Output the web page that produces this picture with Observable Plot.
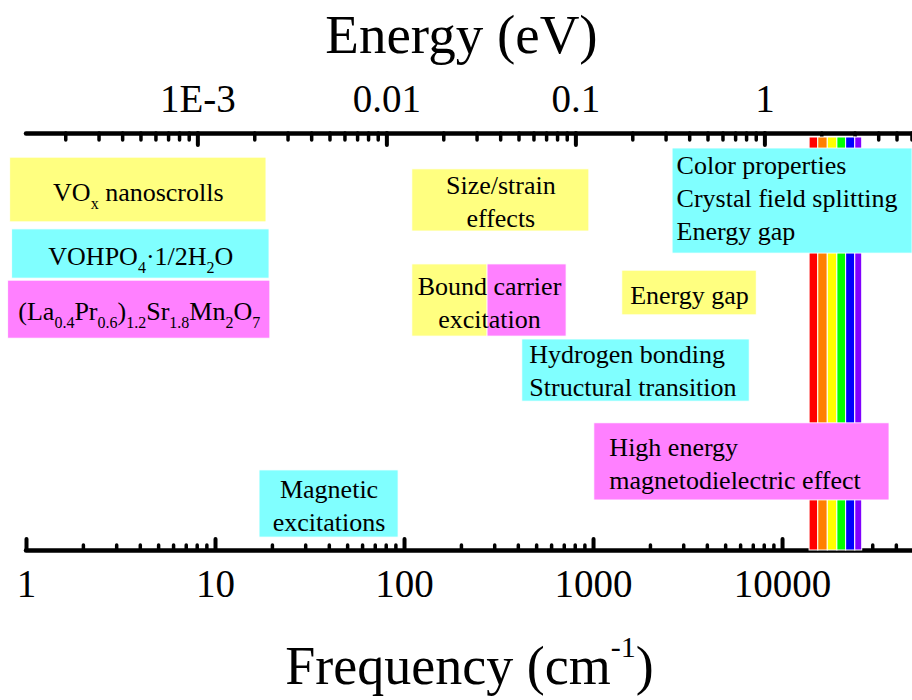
<!DOCTYPE html>
<html>
<head>
<meta charset="utf-8">
<script src="https://cdn.jsdelivr.net/npm/d3@7"></script>
<script src="https://cdn.jsdelivr.net/npm/@observablehq/plot@0.6"></script>
<style>
  body { margin: 0; background: #fff; }
</style>
</head>
<body>
<div id="chart"></div>
<script>
const CM_PER_EV = 8065.54;

// Materials and their highlight colours
const materials = ["VOx nanoscrolls", "VOHPO4·1/2H2O", "(La0.4Pr0.6)1.2Sr1.8Mn2O7"];
const materialColors = ["#ffff80", "#80ffff", "#ff80ff"];

// Study regions: material, frequency span (cm⁻¹) and vertical lane (0 = bottom axis, 100 = top axis)
const regionMaterial = [0, 1, 2, 0, 0, 2, 0, 1, 1, 2, 1];
const regionFrom = [0.82, 0.84, 0.80, 110, 110, 275, 1420, 420, 2620, 1010, 17.1];
const regionTo = [18.6, 19.3, 19.5, 950, 275, 720, 7300, 6700, 48700, 36800, 93];
const laneTop = [94.2, 77.0, 64.7, 91.4, 68.6, 68.6, 67.1, 50.6, 96.4, 30.5, 19.2];
const laneBottom = [78.7, 65.2, 50.8, 76.5, 51.3, 51.3, 56.4, 35.7, 71.2, 12.0, 3.1];

// Region labels: text, first/last region spanned, alignment
const labelText = [
  "VO_{x} nanoscrolls",
  "VOHPO_{4}·1/2H_{2}O",
  "(La_{0.4}Pr_{0.6})_{1.2}Sr_{1.8}Mn_{2}O_{7}",
  "Size/strain\neffects",
  "Bound carrier\nexcitation",
  "Energy gap",
  "Hydrogen bonding\nStructural transition",
  "Color properties\nCrystal field splitting\nEnergy gap",
  "High energy\nmagnetodielectric effect",
  "Magnetic\nexcitations"
];
const labelRegions = [[0, 0], [1, 1], [2, 2], [3, 3], [4, 5], [6, 6], [7, 7], [8, 8], [9, 9], [10, 10]];
const labelAlign = ["middle", "middle", "middle", "middle", "middle", "middle", "start", "start", "start", "middle"];

// Visible spectrum bands (cm⁻¹)
const spectrumColors = ["#ff0000", "#ff8000", "#ffff00", "#00ff00", "#0000ff", "#8000ff"];
const spectrumEdges = [13900, 15450, 17350, 19500, 21700, 24250, 26400];

// Axis tick labels
const freqTickValues = [1, 10, 100, 1000, 10000];
const freqTickLabels = ["1", "10", "100", "1000", "10000"];
const energyTickValues = [0.001, 0.01, 0.1, 1];
const energyTickLabels = ["1E-3", "0.01", "0.1", "1"];

const regions = regionFrom.map((_, i) => ({
  from: regionFrom[i], to: regionTo[i], top: laneTop[i], bottom: laneBottom[i],
  fill: materialColors[regionMaterial[i]], material: materials[regionMaterial[i]]
}));
const labels = labelText.map((text, i) => {
  const [a, b] = labelRegions[i];
  return {id: i, text, from: regionFrom[a], to: regionTo[b], mid: (laneTop[a] + laneBottom[a]) / 2, align: labelAlign[i]};
});
const stripes = spectrumColors.map((color, i) => ({from: spectrumEdges[i], to: spectrumEdges[i + 1], color}));

const xDomain = [1, 48700];
const freqTicks = d3.scaleLog().domain(xDomain).ticks();
const energyTicks = d3.scaleLog().domain(xDomain.map(f => f / CM_PER_EV)).ticks();
const isDecade = v => Math.abs(Math.log10(v) - Math.round(Math.log10(v))) < 1e-9;

const font = "'Liberation Serif', 'Times New Roman', Times, serif";
const tick = {stroke: "black", strokeLinecap: "round"};
const boxText = {y: "mid", text: "text", fontSize: 26, lineHeight: 1.27, fill: "black"};
const leftLabels = (ids, dx, dy) => Plot.text(labels.filter(d => ids.includes(d.id)),
  {...boxText, x: "from", textAnchor: "start", dx, dy});

const chart = Plot.plot({
  width: 912,
  height: 700,
  marginTop: 133,
  marginRight: 0,
  marginBottom: 150,
  marginLeft: 26,
  x: {type: "log", domain: xDomain, axis: null},
  y: {domain: [0, 100], axis: null},
  style: {fontFamily: font, background: "white", color: "black"},
  marks: [
    // axis lines: frequency at the bottom, energy at the top
    Plot.ruleY([0, 100], {...tick, strokeWidth: 4.5}),
    Plot.ruleX(freqTicks.filter(isDecade), {...tick, y1: 0, y2: 0, insetBottom: 11, strokeWidth: 4}),
    Plot.ruleX(freqTicks.filter(v => !isDecade(v)), {...tick, y1: 0, y2: 0, insetBottom: 5, strokeWidth: 3.5}),
    Plot.ruleX(energyTicks.filter(isDecade), {...tick, x: e => e * CM_PER_EV, y1: 100, y2: 100, insetTop: 12, strokeWidth: 4}),
    Plot.ruleX(energyTicks.filter(v => !isDecade(v)), {...tick, x: e => e * CM_PER_EV, y1: 100, y2: 100, insetTop: 7, strokeWidth: 3.5}),
    Plot.text(freqTickValues, {x: d => d, y: 0, text: (d, i) => freqTickLabels[i], dy: 34.5, fontSize: 39, fill: "black"}),
    Plot.text(energyTickValues, {x: e => e * CM_PER_EV, y: 100, text: (d, i) => energyTickLabels[i], dy: -33.5, fontSize: 39, fill: "black"}),

    // visible spectrum
    Plot.rect(stripes, {x1: "from", x2: "to", y1: 0, y2: 100, insetTop: 4, fill: "color", stroke: "white", strokeWidth: 1}),

    // study regions
    Plot.rect(regions, {x1: "from", x2: "to", y1: "bottom", y2: "top", fill: "fill", stroke: "white", strokeWidth: 0.8}),
    Plot.text(labels.filter(d => d.align === "middle"), {...boxText, x: d => Math.sqrt(d.from * d.to)}),
    leftLabels([6], 7, -2),
    leftLabels([7], 4, -5),
    leftLabels([8], 15, 0),

    // axis titles
    Plot.text(["Energy (eV)"], {frameAnchor: "top", lineAnchor: "middle", dx: -8, dy: -98.6, fontSize: 55, fill: "black"}),
    Plot.text(["Frequency (cm^{-1})"], {frameAnchor: "bottom", lineAnchor: "middle", dy: 116, fontSize: 54, fill: "black"})
  ]
});

// Turn _{...} and ^{...} markup into subscript / superscript tspans
function richText(root) {
  const ns = "http://www.w3.org/2000/svg";
  root.querySelectorAll("text").forEach(t => {
    if (t.children.length) return;
    const s = t.textContent;
    if (!/[_^]\{/.test(s)) return;
    t.textContent = "";
    let shift = 0;
    const add = (str, size, target) => {
      const ts = document.createElementNS(ns, "tspan");
      ts.textContent = str;
      if (size) ts.setAttribute("font-size", size);
      const d = target - shift;
      if (d) ts.setAttribute("dy", d);
      shift = target;
      t.appendChild(ts);
    };
    const re = /([_^])\{([^}]*)\}/g;
    let last = 0, m;
    while ((m = re.exec(s))) {
      if (m.index > last) add(s.slice(last, m.index), null, 0);
      const sup = m[1] === "^";
      add(m[2], sup ? 30 : 16, sup ? -27 : 8);
      last = re.lastIndex;
    }
    if (last < s.length) add(s.slice(last), null, 0);
  });
}

richText(chart);
document.getElementById("chart").append(chart);
</script>
</body>
</html>
